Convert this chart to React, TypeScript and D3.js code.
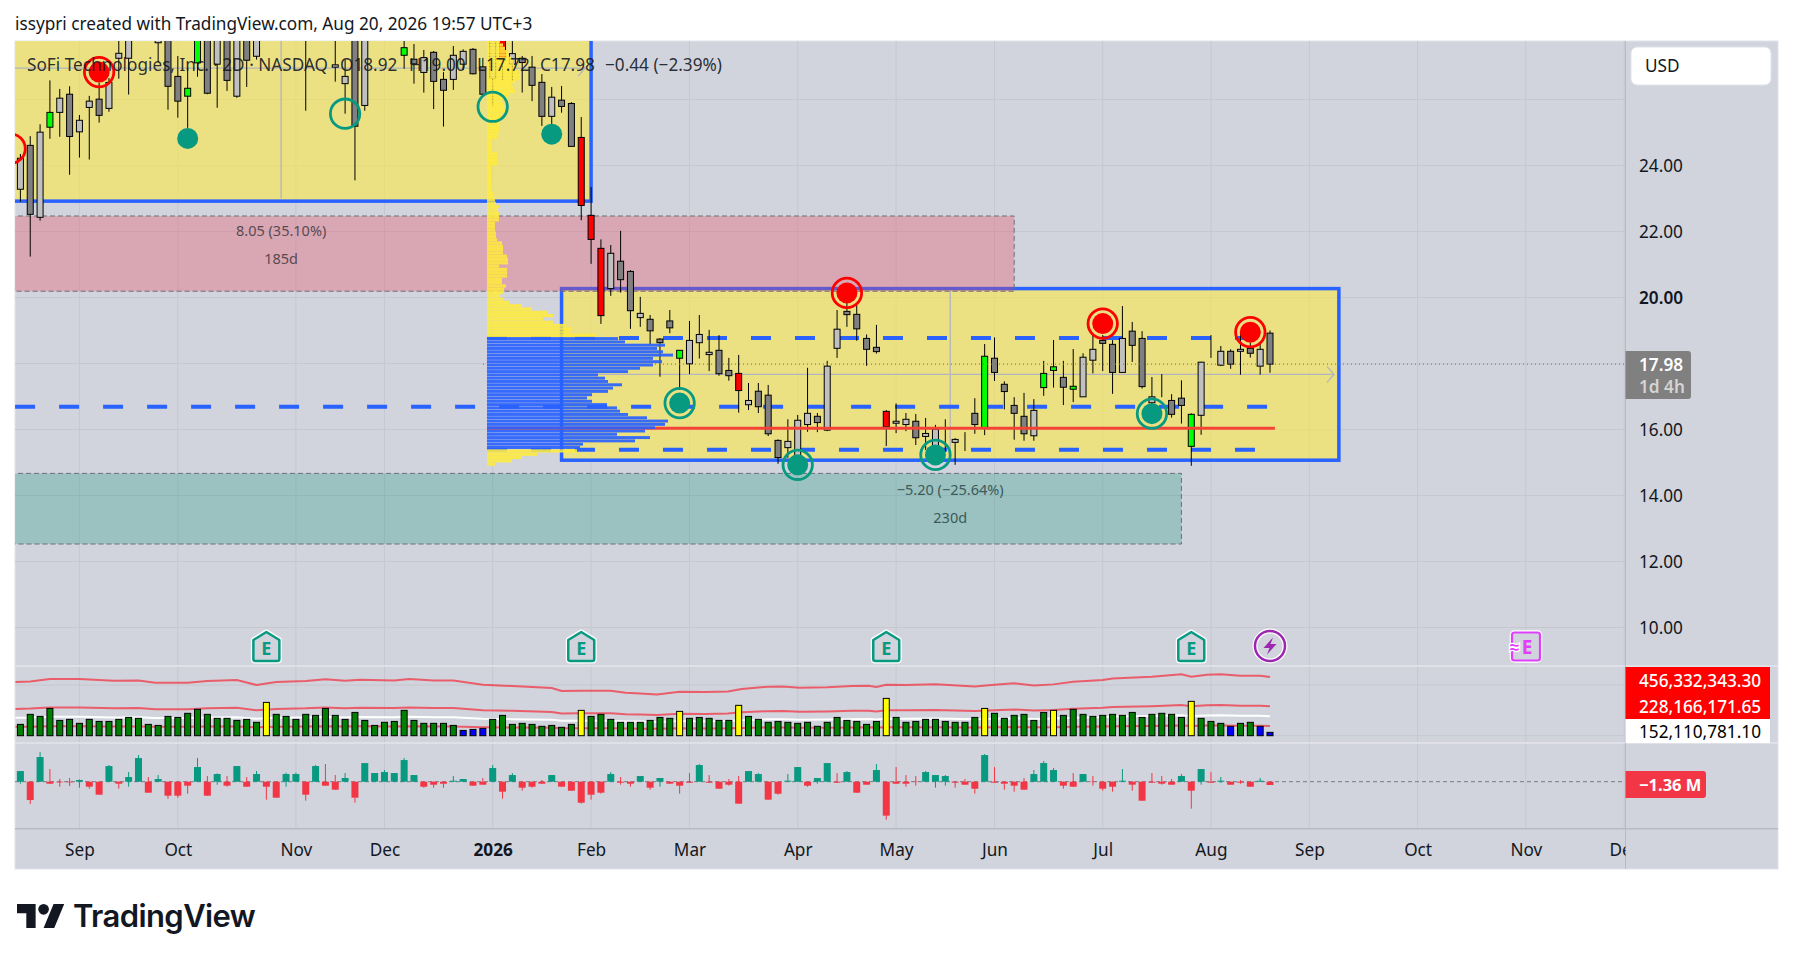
import { useEffect, useRef } from 'react';
import * as d3 from 'd3';

const WIDTH = 1793;
const HEIGHT = 960;
const FONT = '"Noto Sans", sans-serif';

// l = up, d = down, g = up on heavy volume, r = down on heavy volume
const candleKinds = ("ldlgldlldl" + "lldllddggd" + "ldldldldld" + "ldlldldldg" + "dlddllddlr" + "ldddlddrrr" + "lddldddgll" + "lddrldddll" + "ldllddddrl" + "ldllllldgd" + "dddlggdgll" + "ddlddllddg" + "llldldld").split("");

const opens = [
  23.28,24.61,22.43,25.16,25.61,26.16,25.02,25.76,26.01,25.73,
  27.25,27.25,28.41,27.95,27.72,28.41,26.70,26.10,27.11,28.26,
  27.07,28.11,26.10,28.11,27.31,28.90,28.50,29.00,28.40,28.26,
  28.30,28.50,26.98,26.48,28.26,25.82,28.70,28.30,28.60,27.34,
  27.22,26.82,27.43,26.61,26.61,27.07,27.52,26.99,26.64,28.26,
  27.07,27.25,26.98,26.52,25.49,25.98,25.88,24.85,22.49,21.49,
  20.27,21.10,20.79,19.39,19.34,18.74,19.29,18.16,17.99,18.63,
  18.27,18.40,17.79,17.70,16.75,17.16,17.04,15.67,15.45,14.98,
  16.15,16.40,15.98,18.46,19.58,19.49,18.76,18.49,16.55,16.19,
  16.15,16.25,15.79,15.38,15.70,15.61,15.61,16.49,16.04,18.16,
  17.37,16.73,16.40,15.81,17.27,17.79,17.58,17.22,16.99,18.10,
  18.70,18.58,17.73,18.98,18.76,16.81,17.07,16.88,16.95,15.49,
  16.43,18.24,17.95,18.37,18.37,18.46,17.92,18.92,
];
const closes = [
  24.22,22.52,25.01,25.61,26.04,24.88,25.37,25.95,25.52,26.52,
  27.40,28.11,28.11,28.56,27.80,26.40,25.95,26.34,28.11,26.19,
  28.11,26.58,28.26,27.19,28.17,28.60,28.90,28.60,28.80,27.95,
  28.60,28.10,27.05,26.70,25.19,28.26,28.30,28.70,28.20,27.57,
  27.08,27.27,26.55,26.28,27.34,27.46,26.78,26.16,28.11,27.20,
  27.39,27.12,26.43,25.49,26.07,25.79,24.58,22.79,21.76,19.45,
  21.34,20.54,19.60,19.52,18.99,18.63,19.08,18.40,18.70,18.88,
  18.34,17.69,17.63,17.18,16.88,16.69,15.87,15.15,15.64,16.28,
  16.49,16.21,17.92,19.04,19.48,19.05,18.43,18.36,16.08,16.25,
  16.31,15.75,15.88,16.01,15.70,15.70,15.61,16.15,18.22,17.73,
  17.15,16.49,15.87,16.58,17.70,17.90,17.28,17.31,18.19,18.43,
  18.61,17.73,18.76,18.55,17.30,16.99,17.07,16.46,16.73,16.46,
  18.04,18.24,18.37,17.98,18.43,18.31,18.43,17.98,
];
const highs = [
  24.35,24.89,25.25,26.58,26.32,26.40,25.53,26.11,26.51,26.65,
  27.95,28.41,28.71,28.77,28.26,28.71,27.32,26.98,28.41,28.56,
  28.41,28.41,28.56,28.41,28.41,29.10,29.20,29.30,29.00,28.41,
  28.80,28.70,28.11,27.20,28.56,28.56,28.90,29.00,28.80,27.80,
  27.68,27.50,27.47,26.83,27.62,27.52,27.56,27.26,28.41,28.56,
  27.77,27.32,27.32,26.77,26.38,26.41,25.92,25.47,23.35,21.76,
  21.59,22.02,20.83,20.02,19.47,18.77,19.62,18.41,19.29,19.47,
  19.02,18.86,18.17,18.26,17.41,17.41,17.35,15.70,16.31,16.44,
  17.87,16.50,18.08,19.62,20.08,19.77,18.88,19.17,16.59,16.79,
  16.50,16.47,16.35,16.14,16.31,15.74,15.92,16.95,18.59,18.79,
  17.46,16.98,17.11,16.92,18.08,18.71,18.08,18.44,18.31,18.86,
  18.86,18.71,19.74,19.26,18.98,17.59,17.68,17.07,17.49,16.49,
  18.05,18.86,18.53,18.43,18.95,18.63,18.62,19.00,
];
const lows = [
  22.90,21.24,22.33,24.81,24.87,23.72,24.24,24.18,25.30,25.63,
  26.63,26.15,27.86,27.83,27.12,25.69,25.45,25.14,26.69,26.16,
  25.75,26.26,26.05,26.38,27.21,28.40,28.30,28.40,28.10,25.66,
  28.00,27.90,26.54,25.57,23.55,25.66,28.00,28.10,27.90,26.93,
  26.48,26.21,25.71,25.18,26.29,26.89,26.76,26.11,25.80,26.59,
  26.56,26.21,25.95,25.20,25.25,25.60,24.58,22.34,21.02,19.20,
  20.05,20.15,19.05,19.11,18.56,17.60,18.92,17.20,17.68,18.15,
  17.77,17.63,17.48,16.51,16.59,16.50,15.80,14.96,15.14,14.77,
  15.93,15.92,15.95,18.17,19.11,18.69,17.93,18.30,15.50,15.89,
  15.95,15.53,15.38,15.14,15.32,14.93,15.35,15.87,15.83,17.47,
  16.61,15.69,15.66,15.66,17.02,17.27,16.74,16.83,16.99,17.70,
  17.77,17.08,17.73,18.05,17.24,16.50,16.98,16.36,16.18,14.90,
  15.84,18.17,17.92,17.84,17.66,18.18,17.66,17.72,
];

// volume in millions
const volumes = [
  88,166,150,212,119,127,96,127,111,111,
  127,142,135,88,80,150,142,174,205,166,
  135,135,119,127,104,259,166,150,127,166,
  158,212,158,127,181,119,80,104,111,197,
  119,96,96,96,80,41,49,57,127,158,
  88,96,88,73,80,65,88,197,150,166,
  127,104,104,104,119,142,135,189,135,142,
  135,119,119,236,150,127,104,111,104,96,
  104,73,104,142,119,111,88,111,290,142,
  104,111,127,127,111,104,104,142,212,174,
  135,158,166,119,181,197,158,205,166,150,
  158,166,158,181,142,166,174,166,142,267,
  135,111,96,73,96,104,73,26,
];
const hotBars = [25, 57, 67, 73, 88, 98, 105, 119];
const quietBars = [45, 46, 47, 123, 126, 127];

const bandBars = [-0.5,1,3,6,9.5,12,13.7,17,19,22,24,26,29,31,33,34.5,38,39.5,42,44,47,50,54,55,57,60,61.5,63,64.7,67,69.6,71.9,73.3,75.9,77.5,79.2,82,84.5,86.2,87,88,90,93,97,99,101,103,105,107,110,111,115,118,119,120.6,122,124,126,127];
const bandUpper = [417,422,440,440,427,430,412,412,425,433,394,417,425,438,427,435,430,440,430,430,396,386,370,347,350,350,334,329,321,342,339,344,363,381,383,373,376,386,389,378,396,394,399,383,396,407,391,399,420,433,445,458,477,458,474,477,466,466,456];

// volume delta per bar, millions
const deltaClose = [
  4.38,-7.54,10.14,-0.82,-0.27,-0.27,0.69,-2.06,-5.34,6.44,
  -0.82,1.92,9.73,-4.52,1.10,-5.75,-5.75,-1.64,6.03,-5.75,
  3.15,-1.64,6.44,-2.06,3.15,-2.06,-6.58,3.15,3.15,-5.34,
  6.44,-1.64,-3.29,1.51,-6.58,7.67,3.56,3.97,3.56,8.91,
  2.74,-2.06,-1.23,-0.82,0.41,1.10,-1.64,-1.23,5.62,-4.11,
  2.74,-2.47,-2.06,-0.82,2.74,-2.06,-3.70,-8.63,-5.34,-4.52,
  3.15,-0.41,-0.82,2.33,-2.47,1.51,-0.82,-1.64,-0.41,6.85,
  -0.41,-2.88,-1.23,-9.04,4.38,3.15,-7.40,-4.93,0.41,6.03,
  -1.64,1.51,7.67,-0.41,3.97,-4.52,-1.23,4.80,-13.97,-0.82,
  -0.82,-0.14,3.97,2.74,2.33,-0.41,-1.23,-2.88,10.96,-0.41,
  -0.82,-1.64,-3.29,3.15,7.67,4.80,-1.64,-2.06,3.15,-0.14,
  -2.88,-2.06,0.41,-1.23,-7.81,-0.41,-0.82,-1.23,2.33,-3.70,
  5.21,-0.41,0.41,-1.23,-0.41,-2.06,0.41,-1.36,
];
const deltaHigh = [
  4.38,0,12.19,5.21,1.10,1.51,0.96,0,0,6.85,
  0,3.97,10.96,1.92,2.74,0,0,0,9.73,2.33,
  3.43,2.33,6.44,1.92,4.38,0,0,3.70,3.70,0,
  6.85,7.26,2.74,3.56,0,7.67,3.56,4.80,3.56,9.73,
  2.74,0,0,0,2.33,1.10,0,1.51,6.85,0,
  3.56,0,0,0.69,2.74,0,0,0,0,0,
  3.97,1.92,0,2.33,0,1.51,0,0,3.56,7.26,
  2.74,0,1.10,2.33,4.38,3.56,0,0,3.15,6.03,
  0,1.51,7.67,3.56,4.38,0,0,7.26,0,6.03,
  2.74,2.33,4.38,2.74,2.74,0,1.10,0,11.37,6.03,
  0,0,1.51,4.80,8.49,5.62,0,3.56,3.15,2.33,
  0,0,5.21,0,0,3.56,2.33,1.10,3.15,0,
  5.21,3.97,1.92,0,0.69,0,1.51,0,
];
const deltaLow = [
  -0.82,-9.18,0,-0.82,-2.06,-1.78,-2.47,-2.88,-5.34,0,
  -2.88,-2.06,0,-4.52,0,-6.99,-6.58,-4.93,0,-5.75,
  -1.23,-2.06,0,-2.06,0,-7.40,-6.58,-2.06,0,-7.81,
  0,-1.64,-3.29,0,-8.63,0,0,0,0,0,
  0,-2.47,-2.47,-2.47,0,0,-1.64,-1.23,0,-6.99,
  0,-3.70,-2.47,-0.82,0,-2.06,-3.70,-9.04,-7.40,-4.93,
  0,-1.23,-2.06,0,-3.29,-2.06,-0.82,-4.93,-0.41,0,
  -0.41,-2.88,-1.64,-9.04,0,0,-7.40,-5.34,0,0,
  -2.06,-0.82,0,-0.41,0,-4.52,-1.23,0,-15.62,-0.82,
  -2.06,-1.64,0,-2.47,-1.64,-2.47,-1.23,-4.93,0,-0.41,
  -3.29,-4.11,-3.29,0,0,0,-2.88,-2.06,0,-1.64,
  -3.70,-4.11,0,-3.70,-7.81,-0.41,-1.23,-1.23,0,-11.10,
  -1.23,-0.41,-0.41,-1.23,-0.82,-2.06,0,-1.36,
];

// volume profile rows, 0.10 apart, starting at 14.90
const profileStart = 14.9;
const profileStep = 0.1;
const profileRows = [
  8,25,35,50,90,93,96,148,163,130,158,168,178,181,160,141,133,130,120,105,
  100,105,121,126,135,121,118,111,141,153,166,175,166,186,176,170,178,138,131,108,
  83,84,78,66,56,66,61,45,35,23,16,13,16,17,19,15,15,20,20,20,
  12,21,21,20,16,16,16,15,10,9,9,8,8,8,12,12,12,11,12,9,
  8,7,6,5,5,4,4,4,4,4,4,10,10,10,10,5,5,5,5,10,
  11,12,12,13,13,14,15,18,17,16,15,20,22,28,26,24,28,33,33,30,
  28,27,26,24,22,20,18,16,13,
];
const valueAreaLow = 15.39;
const valueAreaHigh = 18.77;
const pocPrice = 16.04;
const midLevel = 16.69;
const lastClose = 17.98;

// signal markers: bar, price, kind
const markerBars = [-1, 8, 17, 33, 48, 54, 67, 79, 84, 93, 110, 115, 125];
const markerPrices = [24.51, 26.83, 24.82, 25.57, 25.78, 24.95, 16.80, 14.93, 20.14, 15.23, 19.21, 16.48, 18.95];
const markerKinds = ["redRing", "redBoth", "tealDot", "tealRing", "tealRing", "tealDot", "tealBoth", "tealBoth", "redBoth", "tealBoth", "redBoth", "tealBoth", "redBoth"];

const earningsBars = [25, 57, 88, 119];

const priceGrid = [10, 12, 14, 16, 18, 20, 22, 24, 26];
const priceLabels = [10, 12, 14, 16, 20, 22, 24];
const tickBars = [6, 16, 28, 37, 48, 58, 68, 79, 89, 99, 110, 121, 131, 142, 153, 163];
const tickNames = ["Sep", "Oct", "Nov", "Dec", "2026", "Feb", "Mar", "Apr", "May", "Jun", "Jul", "Aug", "Sep", "Oct", "Nov", "Dec"];

const chart = { left: 15, right: 1625.5, top: 41, mainBottom: 666, volBottom: 743, deltaBottom: 828.7, end: 1778, bottom: 869 };
const TEXT_SIZE = 17.2;

export default function App() {
  const svgRef = useRef<SVGSVGElement>(null);

  useEffect(() => {
    if (!svgRef.current) return;
    const svg = d3.select(svgRef.current);
    svg.selectAll("*").remove();

    const x = d3.scaleLinear().domain([0, 127]).range([20.4, 1270]);
    const y = d3.scaleLinear().domain([20, 10]).range([297.5, 627.5]);
    const volY = d3.scaleLinear().domain([0, 456.33]).range([735.7, 677]);
    const deltaY = d3.scaleLinear().domain([0, 10]).range([781.7, 757.4]);
    const profileX = d3.scaleLinear().domain([0, 186]).range([487, 673]);

    const defs = svg.append("defs");
    const clip = (id: string, top: number, bottom: number) =>
      defs.append("clipPath").attr("id", id).append("rect")
        .attr("x", chart.left).attr("y", top)
        .attr("width", chart.right - chart.left).attr("height", bottom - top);
    clip("mainClip", chart.top, chart.mainBottom);
    clip("axisClip", chart.deltaBottom, chart.bottom);

    // panel background
    svg.append("rect").attr("x", chart.left).attr("y", chart.top)
      .attr("width", chart.end - chart.left).attr("height", chart.bottom - chart.top)
      .attr("fill", "#d1d4dc").attr("stroke", "#e0e3eb");

    const grid = svg.append("g").attr("stroke", "#c5c8d1").attr("stroke-width", 1);
    tickBars.forEach((b) => {
      if (x(b) < chart.right) grid.append("line").attr("x1", x(b)).attr("x2", x(b)).attr("y1", chart.top).attr("y2", chart.deltaBottom);
    });
    priceGrid.forEach((p) => {
      grid.append("line").attr("x1", chart.left).attr("x2", chart.right).attr("y1", y(p)).attr("y2", y(p));
    });
    [0, 394].forEach((v) => {
      grid.append("line").attr("x1", chart.left).attr("x2", chart.right).attr("y1", volY(v)).attr("y2", volY(v));
    });

    const main = svg.append("g").attr("clip-path", "url(#mainClip)");

    // the two yellow range boxes
    const box = (x0: number, x1: number, top: number, bottom: number) =>
      main.append("rect").attr("x", x(x0)).attr("y", y(top))
        .attr("width", x(x1) - x(x0)).attr("height", y(bottom) - y(top))
        .attr("fill", "rgba(252,233,72,0.6)").attr("stroke", "#2962ff").attr("stroke-width", 3.5);
    box(-10, 58, 30, 22.92);
    box(55, 134, 20.27, 15.07);

    // date range guides inside the boxes
    const guide = (x0: number, x1: number, y0: number, y1: number) =>
      main.append("line").attr("x1", x(x0)).attr("x2", x(x1)).attr("y1", y(y0)).attr("y2", y(y1))
        .attr("stroke", "#b2b5be").attr("stroke-width", 1.3);
    guide(26.5, 26.5, 30, 23);
    guide(-2, 57.4, 26.95, 26.95);
    guide(94.5, 94.5, 20.2, 15.15);
    guide(55.3, 133.5, 17.67, 17.67);
    const arrow = (b: number, p: number) =>
      main.append("path")
        .attr("d", `M${x(b) - 7},${y(p) - 8}L${x(b)},${y(p)}L${x(b) - 7},${y(p) + 8}`)
        .attr("fill", "none").attr("stroke", "#b2b5be").attr("stroke-width", 1.3);
    arrow(133.5, 17.67);
    arrow(57.4, 26.95);

    // long / short position zones
    const zone = (x1: number, top: number, bottom: number, fill: string) => {
      main.append("rect").attr("x", x(-10)).attr("y", y(top))
        .attr("width", x(x1) - x(-10)).attr("height", y(bottom) - y(top)).attr("fill", fill);
      main.append("path")
        .attr("d", `M${x(-10)},${y(top)}H${x(x1)}V${y(bottom)}H${x(-10)}`)
        .attr("fill", "none").attr("stroke", "#6b6f78").attr("stroke-dasharray", "5 3");
    };
    zone(101, 22.47, 20.19, "rgba(234,70,95,0.32)");
    zone(118, 14.67, 12.53, "rgba(30,153,133,0.3)");
    const zoneText = (b: number, py: number, s: string, c: string) =>
      main.append("text").attr("x", x(b)).attr("y", py).attr("text-anchor", "middle")
        .attr("dominant-baseline", "central").attr("font-family", FONT).attr("font-size", 14.5)
        .attr("fill", c).text(s);
    zoneText(26.5, 230, "8.05 (35.10%)", "#5a4a50");
    zoneText(26.5, 257.5, "185d", "#5a4a50");
    zoneText(94.5, 489, "−5.20 (−25.64%)", "#3b5a5a");
    zoneText(94.5, 516.5, "230d", "#3b5a5a");

    // dashed levels
    const dashed = (x0: number, x1: number, p: number) =>
      main.append("line").attr("x1", x(x0)).attr("x2", x(x1)).attr("y1", y(p)).attr("y2", y(p))
        .attr("stroke", "#2962ff").attr("stroke-width", 4).attr("stroke-dasharray", "20 24");
    dashed(47.42, 125.47, valueAreaHigh);
    dashed(47.42, 125.47, valueAreaLow);
    dashed(-0.54, 126.7, midLevel);

    // candles
    const kindFill: Record<string, string> = { l: "#c0c0c0", d: "#808080", g: "#00ff00", r: "#ff0000" };
    const candles = main.append("g").selectAll("g").data(d3.range(opens.length)).join("g");
    candles.append("line")
      .attr("x1", (i) => x(i)).attr("x2", (i) => x(i))
      .attr("y1", (i) => y(highs[i])).attr("y2", (i) => y(lows[i]))
      .attr("stroke", "#000").attr("stroke-width", 1);
    candles.append("rect")
      .attr("x", (i) => x(i) - 3)
      .attr("y", (i) => y(Math.max(opens[i], closes[i])))
      .attr("width", 6)
      .attr("height", (i) => Math.abs(y(opens[i]) - y(closes[i])))
      .attr("fill", (i) => kindFill[candleKinds[i]])
      .attr("stroke", "#000").attr("stroke-width", 1);

    // volume profile sits over the candles
    const rowH = y(0) - y(profileStep);
    main.append("line").attr("x1", x(47.42)).attr("x2", x(127.5)).attr("y1", y(pocPrice)).attr("y2", y(pocPrice))
      .attr("stroke", "#f44336").attr("stroke-width", 3);
    const inValueArea = (i: number) => {
      const p = profileStart + profileStep * (i + 0.5);
      return p >= valueAreaLow && p <= valueAreaHigh;
    };
    main.append("g").selectAll("rect").data(profileRows).join("rect")
      .attr("x", profileX(0))
      .attr("y", (_, i) => y(profileStart + profileStep * (i + 1)))
      .attr("width", (d) => profileX(d) - profileX(0))
      .attr("height", (_, i) => rowH - (inValueArea(i) ? 0.35 : 0.05))
      .attr("fill", (_, i) => (inValueArea(i) ? "rgba(41,98,255,0.92)" : "rgba(255,235,59,0.88)"));

    // last price line
    main.append("line").attr("x1", 483).attr("x2", chart.right).attr("y1", y(lastClose)).attr("y2", y(lastClose))
      .attr("stroke", "#f23645").attr("stroke-dasharray", "1 3");

    // signal markers
    markerBars.forEach((b, i) => {
      const kind = markerKinds[i];
      const color = kind.startsWith("red") ? "#ff0000" : "#089981";
      if (kind.endsWith("Ring") || kind.endsWith("Both")) {
        main.append("circle").attr("cx", x(b)).attr("cy", y(markerPrices[i])).attr("r", 14.7)
          .attr("fill", "none").attr("stroke", color).attr("stroke-width", 2.8);
      }
      if (kind.endsWith("Dot") || kind.endsWith("Both")) {
        main.append("circle").attr("cx", x(b)).attr("cy", y(markerPrices[i])).attr("r", 10.5).attr("fill", color);
      }
    });

    // earnings and event flags
    const flags = svg.append("g");
    earningsBars.forEach((b) => {
      const g = flags.append("g").attr("transform", `translate(${x(b)},646.5)`);
      const house = "M-13,-6.5L0,-14.5L13,-6.5V12.5Q13,14.5 11,14.5H-11Q-13,14.5 -13,12.5Z";
      g.append("path").attr("d", house).attr("fill", "none").attr("stroke", "#fff").attr("stroke-width", 5).attr("stroke-linejoin", "round");
      g.append("path").attr("d", house).attr("fill", "#d1d4dc").attr("stroke", "#089981").attr("stroke-width", 2.5).attr("stroke-linejoin", "round");
      g.append("text").attr("text-anchor", "middle").attr("y", 8).attr("font-family", FONT)
        .attr("font-size", 18).attr("font-weight", 700).attr("fill", "#089981").text("E");
    });
    const bolt = flags.append("g").attr("transform", `translate(${x(127)},646)`);
    bolt.append("circle").attr("r", 15).attr("fill", "#d1d4dc").attr("stroke", "#fff").attr("stroke-width", 5);
    bolt.append("circle").attr("r", 15).attr("fill", "none").attr("stroke", "#9c27b0").attr("stroke-width", 2.5);
    bolt.append("path").attr("d", "M3,-8.5L-6.5,2H-0.5L-3,8.5L6.5,-2H0.5Z").attr("fill", "#9c27b0");
    const future = flags.append("g").attr("transform", "translate(1526,646.5)");
    future.append("rect").attr("x", -14).attr("y", -14).attr("width", 28).attr("height", 28).attr("rx", 2.5)
      .attr("fill", "#d1d4dc").attr("stroke", "#fff").attr("stroke-width", 4.5);
    future.append("rect").attr("x", -14).attr("y", -14).attr("width", 28).attr("height", 28).attr("rx", 2.5)
      .attr("fill", "#d1d4dc").attr("stroke", "#e040fb").attr("stroke-width", 2.2);
    future.append("text").attr("x", 1).attr("y", 7).attr("text-anchor", "middle").attr("font-family", FONT)
      .attr("font-size", 19).attr("font-weight", 700).attr("fill", "#e040fb").text("E");
    future.append("text").attr("x", -11.5).attr("y", 6).attr("text-anchor", "middle").attr("font-family", FONT)
      .attr("font-size", 17).attr("font-weight", 700).attr("fill", "#e040fb")
      .attr("stroke", "#fff").attr("stroke-width", 2.5).attr("paint-order", "stroke").text("≈");

    // volume pane
    const volColor = (i: number) => hotBars.includes(i) ? "#ffff00" : quietBars.includes(i) ? "#0000ff" : "#008000";
    const bandLine = (k: number) => d3.line<number>().x((b) => x(b)).y((_, i) => volY(bandUpper[i] * k)).curve(d3.curveLinear)(bandBars);
    const volBars = svg.append("g");
    volBars.selectAll("rect").data(volumes).join("rect")
      .attr("x", (_, i) => x(i) - 3)
      .attr("y", (d) => volY(d))
      .attr("width", 6)
      .attr("height", (d) => volY(0) - volY(d))
      .attr("fill", (_, i) => volColor(i))
      .attr("stroke", "#000").attr("stroke-width", 1);
    [1, 1 / 2, 1 / 6].forEach((k) => {
      svg.append("path").attr("d", bandLine(k)).attr("fill", "none").attr("stroke", "#f23645")
        .attr("stroke-opacity", 0.75).attr("stroke-width", 2);
    });
    svg.append("path").attr("d", bandLine(1 / 3)).attr("fill", "none").attr("stroke", "#fff").attr("stroke-width", 2);
    volBars.raise();

    // delta pane
    svg.append("line").attr("x1", chart.left).attr("x2", chart.right).attr("y1", deltaY(0)).attr("y2", deltaY(0))
      .attr("stroke", "#787b86").attr("stroke-dasharray", "4 3");
    const delta = svg.append("g").selectAll("g").data(d3.range(deltaClose.length)).join("g");
    const deltaColor = (i: number) => (deltaClose[i] >= 0 ? "#089981" : "#f23645");
    delta.append("line")
      .attr("x1", (i) => x(i)).attr("x2", (i) => x(i))
      .attr("y1", (i) => deltaY(deltaHigh[i])).attr("y2", (i) => deltaY(deltaLow[i]))
      .attr("stroke", deltaColor);
    delta.append("rect")
      .attr("x", (i) => x(i) - 3.5)
      .attr("y", (i) => deltaY(Math.max(deltaClose[i], 0)))
      .attr("width", 7)
      .attr("height", (i) => Math.abs(deltaY(deltaClose[i]) - deltaY(0)))
      .attr("fill", deltaColor);

    // pane borders
    const hline = (py: number, c: string, w: number) =>
      svg.append("line").attr("x1", chart.left).attr("x2", chart.end).attr("y1", py).attr("y2", py).attr("stroke", c).attr("stroke-width", w);
    hline(chart.mainBottom, "#e4e6ec", 1.5);
    hline(chart.volBottom, "#e4e6ec", 1.5);
    hline(chart.deltaBottom, "#b8bbc4", 1.5);
    svg.append("line").attr("x1", chart.right).attr("x2", chart.right).attr("y1", chart.top).attr("y2", chart.bottom).attr("stroke", "#b8bbc4");

    // axes
    const timeAxis = d3.axisBottom(x).tickValues(tickBars).tickSize(0).tickPadding(0)
      .tickFormat((_, i) => tickNames[i]);
    const tg = svg.append("g").attr("clip-path", "url(#axisClip)").append("g")
      .attr("transform", `translate(0,${chart.deltaBottom + 15})`).call(timeAxis);
    tg.select(".domain").remove();
    tg.selectAll("text").attr("font-family", FONT).attr("font-size", TEXT_SIZE).attr("fill", "#131722")
      .attr("font-weight", (_, i) => (tickNames[i] === "2026" ? 700 : 400));

    const priceAxis = d3.axisRight(y).tickValues(priceLabels).tickSize(0).tickPadding(13.5)
      .tickFormat((d) => (+d).toFixed(2));
    const pg = svg.append("g").attr("transform", `translate(${chart.right},0)`).call(priceAxis);
    pg.select(".domain").remove();
    pg.selectAll("text").attr("font-family", FONT).attr("font-size", TEXT_SIZE).attr("fill", "#131722")
      .attr("font-weight", (d) => (d === 20 ? 600 : 400));

    // scale badges
    const label = (tx: number, py: number, s: string, c: string, w = 400, size = TEXT_SIZE) =>
      svg.append("text").attr("x", tx).attr("y", py).attr("dominant-baseline", "central")
        .attr("font-family", FONT).attr("font-size", size).attr("font-weight", w).attr("fill", c).text(s);
    svg.append("rect").attr("x", 1631).attr("y", 47).attr("width", 140).attr("height", 38).attr("rx", 6)
      .attr("fill", "#fff").attr("stroke", "#e0e3eb");
    label(1645, 65, "USD", "#131722");
    svg.append("path").attr("d", "M1625.5,351H1688a3,3 0 0 1 3,3V396a3,3 0 0 1 -3,3H1625.5Z").attr("fill", "#808080");
    label(1639, 364.5, "17.98", "#fff", 600);
    label(1639, 386, "1d 4h", "#d4d4d4", 600);
    svg.append("rect").attr("x", 1625.5).attr("y", 667).attr("width", 144.5).attr("height", 52).attr("fill", "#ff0000");
    svg.append("rect").attr("x", 1625.5).attr("y", 719).attr("width", 144.5).attr("height", 24).attr("fill", "#fff");
    label(1639, 680, "456,332,343.30", "#fff", 500);
    label(1639, 706.5, "228,166,171.65", "#fff", 500);
    label(1639, 731.5, "152,110,781.10", "#000");
    svg.append("path").attr("d", "M1625.5,771H1703a3,3 0 0 1 3,3V795a3,3 0 0 1 -3,3H1625.5Z").attr("fill", "#f23645");
    label(1639, 784.5, "−1.36 M", "#fff", 700, 16.5);

    // title row and legend
    label(15, 23, "issypri created with TradingView.com, Aug 20, 2026 19:57 UTC+3", "#131722");
    label(27, 64, "SoFi Technologies, Inc. · 2D · NASDAQ", "#131722").attr("fill-opacity", 0.9);
    label(340, 64, "O18.92", "#131722").attr("fill-opacity", 0.9);
    label(409, 64, "H19.00", "#131722").attr("fill-opacity", 0.9);
    label(477, 64, "L17.72", "#131722").attr("fill-opacity", 0.9);
    label(540, 64, "C17.98", "#131722").attr("fill-opacity", 0.9);
    label(605, 64, "−0.44 (−2.39%)", "#131722").attr("fill-opacity", 0.9);

    // logo
    const logo = svg.append("g").attr("transform", "translate(17,898.7) scale(1.33)").attr("fill", "#131722");
    logo.append("path").attr("d", "M14 22H7V11H0V4h14v18zM28 22h-8l7.5-18h8L28 22z");
    logo.append("circle").attr("cx", 20).attr("cy", 8).attr("r", 4);
    svg.append("text").attr("x", 73).attr("y", 915).attr("dominant-baseline", "central")
      .attr("font-family", "Inter, sans-serif").attr("font-size", 31).attr("font-weight", 600)
      .attr("letter-spacing", -0.6).attr("fill", "#131722").text("TradingView");
  }, []);

  return (
    <svg
      ref={svgRef}
      width={WIDTH}
      height={HEIGHT}
      style={{ position: "absolute", left: 0, top: 0, background: "#fff" }}
    />
  );
}
